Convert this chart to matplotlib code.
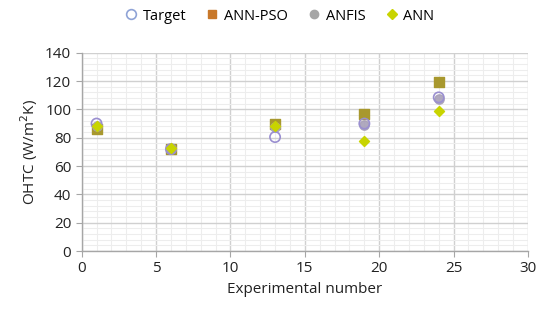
import matplotlib
matplotlib.use("Agg")
import matplotlib.pyplot as plt
from matplotlib.ticker import MultipleLocator

plt.rcParams['font.family'] = ['Open Sans', 'DejaVu Sans']

exp_num = [1, 6, 13, 19, 24]
target = [90, 72, 80.5, 90, 108.5]
ann_pso = [86.5, 72, 89.5, 97, 119.5]
anfis = [88.5, 72, 87.5, 89, 107.5]
ann = [88.5, 72.5, 88.5, 78, 99]

fig = plt.figure(figsize=(5.5, 3.2), dpi=100)
ax = fig.add_axes([0.1485, 0.2156, 0.8115, 0.6194])

ax.scatter(exp_num, ann_pso, s=45, marker='s', color='#A8982E', label='ANN-PSO', zorder=3)
ax.scatter(exp_num, anfis, s=45, marker='o', color='#A8A0B8', alpha=0.9, label='ANFIS', zorder=4)
ax.scatter(exp_num, target, s=55, facecolors='none', edgecolors='#9A8FD0', linewidths=1.2, label='Target', zorder=5)
ax.scatter(exp_num, ann, s=26, marker='D', color='#C8D400', label='ANN', zorder=6)

ax.set_xlim(0, 30)
ax.set_ylim(0, 140)
ax.xaxis.set_major_locator(MultipleLocator(5))
ax.xaxis.set_minor_locator(MultipleLocator(1))
ax.yaxis.set_major_locator(MultipleLocator(20))
ax.yaxis.set_minor_locator(MultipleLocator(4))
ax.grid(which='major', color='#D0D0D0', linewidth=1.0, zorder=0)
ax.grid(which='minor', color='#EDEDED', linewidth=0.8, zorder=0)
ax.set_axisbelow(True)

for s in ['top', 'right']:
    ax.spines[s].set_visible(False)
for s in ['left', 'bottom']:
    ax.spines[s].set_color('#A6A6A6')
    ax.spines[s].set_linewidth(1.0)
ax.tick_params(which='major', length=4, color='#A6A6A6', labelsize=11, labelcolor='#222222')
ax.tick_params(which='minor', length=0)

ax.set_xlabel('Experimental number', fontsize=11, color='#222222')
ax.set_ylabel('OHTC (W/m$^2$K)', fontsize=11, color='#222222')

handles = [
    plt.Line2D([], [], marker='o', linestyle='none', markerfacecolor='none', markeredgecolor='#8FA3D6', markersize=7, markeredgewidth=1.2),
    plt.Line2D([], [], marker='s', linestyle='none', color='#C8782A', markersize=6),
    plt.Line2D([], [], marker='o', linestyle='none', color='#A6A6A6', markersize=6),
    plt.Line2D([], [], marker='D', linestyle='none', color='#C8D400', markersize=5),
]
fig.legend(handles, ['Target', 'ANN-PSO', 'ANFIS', 'ANN'], loc='center', bbox_to_anchor=(0.507, 0.95),
           ncol=4, frameon=False, fontsize=10.5, handlelength=1.0, handletextpad=0.3, columnspacing=1.3)

fig.savefig('out.png', dpi=100)
